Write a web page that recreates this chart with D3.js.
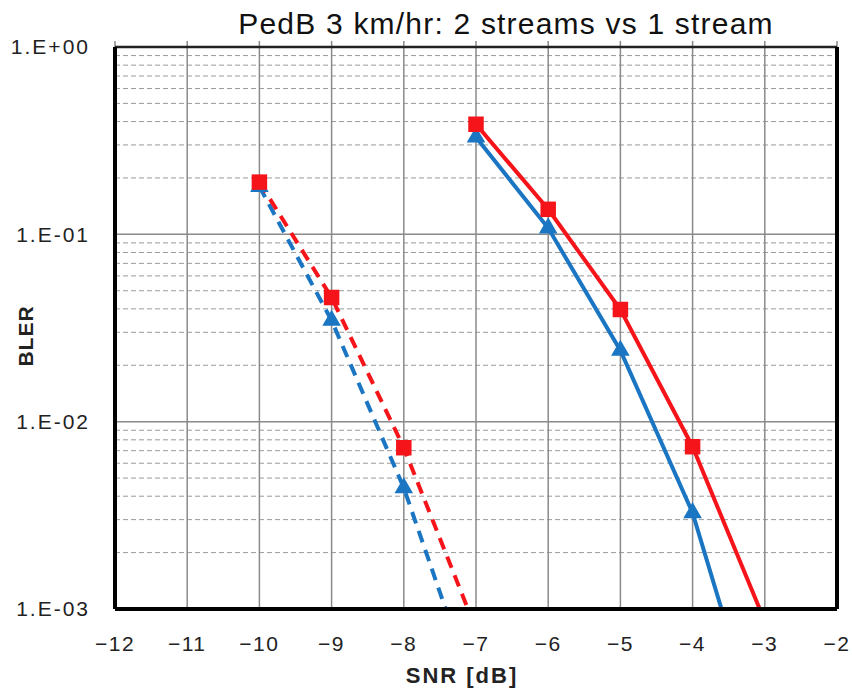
<!DOCTYPE html>
<html>
<head>
<meta charset="utf-8">
<script src="https://cdn.jsdelivr.net/npm/d3@7"></script>
<style>
body { margin: 0; background: #fff; }
text { font-family: "Liberation Sans", "DejaVu Sans", sans-serif; }
</style>
</head>
<body>
<script>
// data
var snrTicks = [-12, -11, -10, -9, -8, -7, -6, -5, -4, -3, -2];
var blerTicks = [1, 0.1, 0.01, 0.001];
var blerTickLabels = ["1.E+00", "1.E-01", "1.E-02", "1.E-03"];

var snrOneStream = [-7, -6, -5, -4, -3];
var blerOneRed = [0.387, 0.136, 0.0397, 0.00735, 0.00086];
var blerOneBlue = [0.33, 0.108, 0.024, 0.00326, 0.00017];

var snrTwoStream = [-10, -9, -8, -7];
var blerTwoRed = [0.19, 0.046, 0.00726, 0.00078];
var blerTwoBlue = [0.18, 0.0347, 0.00443, 0.00034];

// points past the bottom edge only continue the line, no marker
var markerCountOne = 4;
var markerCountTwo = 3;

var svgWidth = 852, svgHeight = 689;
var margin = {top: 47, right: 15, bottom: 80, left: 115};
var w = svgWidth - margin.left - margin.right;
var h = svgHeight - margin.top - margin.bottom;

var svg = d3.select("body").append("svg")
    .attr("width", svgWidth)
    .attr("height", svgHeight);

var g = svg.append("g")
    .attr("transform", "translate(" + margin.left + "," + margin.top + ")");

var xScale = d3.scaleLinear().domain([-12, -2]).range([0, w]);
var yScale = d3.scaleLog().domain([0.001, 1]).range([h, 0]);

// minor grid (2..9 of every decade)
var minor = [];
[0.001, 0.01, 0.1].forEach(function(d) {
    for (var k = 2; k <= 9; k++) minor.push(d * k);
});
g.append("g").selectAll("line").data(minor).enter().append("line")
    .attr("x1", 0).attr("x2", w)
    .attr("y1", function(d) { return yScale(d); })
    .attr("y2", function(d) { return yScale(d); })
    .attr("stroke", "#9a9a9a")
    .attr("stroke-width", 1)
    .attr("stroke-dasharray", "5,3");

// major grid
g.append("g").selectAll("line").data(blerTicks).enter().append("line")
    .attr("x1", 0).attr("x2", w)
    .attr("y1", function(d) { return yScale(d); })
    .attr("y2", function(d) { return yScale(d); })
    .attr("stroke", "#8a8a8a")
    .attr("stroke-width", 1.5);

g.append("g").selectAll("line").data(snrTicks).enter().append("line")
    .attr("y1", -6).attr("y2", h)
    .attr("x1", function(d) { return xScale(d); })
    .attr("x2", function(d) { return xScale(d); })
    .attr("stroke", "#8a8a8a")
    .attr("stroke-width", 1.5);

// tick labels
g.append("g").selectAll("text").data(snrTicks).enter().append("text")
    .attr("x", function(d) { return xScale(d); })
    .attr("y", h + 42)
    .attr("text-anchor", "middle")
    .attr("font-size", "21px")
    .attr("letter-spacing", "1.5px")
    .attr("fill", "#222")
    .text(function(d) { return "\u2212" + Math.abs(d); });

g.append("g").selectAll("text").data(blerTicks).enter().append("text")
    .attr("x", -25)
    .attr("y", function(d) { return yScale(d); })
    .attr("dy", "0.35em")
    .attr("text-anchor", "end")
    .attr("font-size", "21px")
    .attr("letter-spacing", "2px")
    .attr("fill", "#222")
    .text(function(d, i) { return blerTickLabels[i]; });

// clip series to the plot
g.append("clipPath").attr("id", "plotclip")
  .append("rect").attr("x", 0).attr("y", 0).attr("width", w).attr("height", h);

var line = d3.line()
    .x(function(d) { return xScale(d[0]); })
    .y(function(d) { return yScale(d[1]); });

var series = [
    {x: snrOneStream, y: blerOneBlue, color: "#1a75c2", dash: null, marker: "tri", n: markerCountOne},
    {x: snrOneStream, y: blerOneRed, color: "#f5141a", dash: null, marker: "sq", n: markerCountOne},
    {x: snrTwoStream, y: blerTwoBlue, color: "#1a75c2", dash: "12,8", marker: "tri", n: markerCountTwo},
    {x: snrTwoStream, y: blerTwoRed, color: "#f5141a", dash: "12,8", marker: "sq", n: markerCountTwo}
];

var plot = g.append("g").attr("clip-path", "url(#plotclip)");

series.forEach(function(s) {
    var pts = s.x.map(function(x, i) { return [x, s.y[i]]; });
    plot.append("path")
        .datum(pts)
        .attr("d", line)
        .attr("fill", "none")
        .attr("stroke", s.color)
        .attr("stroke-width", 4)
        .attr("stroke-dasharray", s.dash);
});

series.forEach(function(s) {
    var pts = s.x.slice(0, s.n).map(function(x, i) { return [x, s.y[i]]; });
    var sym = s.marker == "tri" ? d3.symbolTriangle : d3.symbolSquare;
    var size = s.marker == "tri" ? 150 : 240;
    plot.selectAll(null).data(pts).enter().append("path")
        .attr("d", d3.symbol().type(sym).size(size))
        .attr("transform", function(d) {
            return "translate(" + xScale(d[0]) + "," + yScale(d[1]) + ")";
        })
        .attr("fill", s.color);
});

// frame
g.append("line").attr("x1", 0).attr("x2", w).attr("y1", 0).attr("y2", 0)
    .attr("stroke", "#222").attr("stroke-width", 2.5);
g.append("line").attr("x1", 0).attr("x2", 0).attr("y1", 0).attr("y2", h)
    .attr("stroke", "#000").attr("stroke-width", 4);
g.append("line").attr("x1", 0).attr("x2", w).attr("y1", h).attr("y2", h)
    .attr("stroke", "#000").attr("stroke-width", 4);
g.append("line").attr("x1", w).attr("x2", w).attr("y1", 0).attr("y2", h)
    .attr("stroke", "#000").attr("stroke-width", 4);

// titles
svg.append("text")
    .attr("x", 506).attr("y", 34)
    .attr("text-anchor", "middle")
    .attr("font-size", "30px")
    .attr("letter-spacing", "1.2px")
    .attr("fill", "#111")
    .text("PedB 3 km/hr: 2 streams vs 1 stream");

svg.append("text")
    .attr("x", 462).attr("y", 683)
    .attr("text-anchor", "middle")
    .attr("font-size", "22px")
    .attr("font-weight", "bold")
    .attr("letter-spacing", "2px")
    .attr("fill", "#222")
    .text("SNR [dB]");

svg.append("text")
    .attr("transform", "translate(33," + (margin.top + h / 2 + 8) + ") rotate(-90)")
    .attr("text-anchor", "middle")
    .attr("font-size", "21px")
    .attr("font-weight", "bold")
    .attr("letter-spacing", "1px")
    .attr("fill", "#222")
    .text("BLER");
</script>
</body>
</html>
